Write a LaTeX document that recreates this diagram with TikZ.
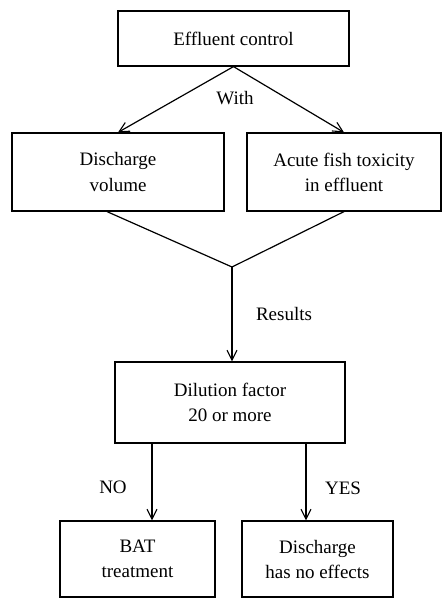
\documentclass[tikz,border=0pt]{standalone}
\usepackage{fontspec}
\setmainfont{Liberation Serif}
\usetikzlibrary{arrows.meta}
\begin{document}
\begin{tikzpicture}[x=1pt,y=-1pt,
  box/.style={draw,line width=1.2pt,align=center,inner sep=0pt,font=\fontsize{19}{25}\selectfont},
  lbl/.style={font=\fontsize{19}{22}\selectfont},
  conn/.style={line width=1.2pt},
  arr/.style={conn,-{Straight Barb[length=10pt,width=10pt,line width=1.1pt]}}]
\useasboundingbox (0,0) rectangle (443,599);
\node[box,minimum width=231pt,minimum height=55pt] (ec) at (233.5,38.5) {Effluent control};
\node[box,minimum width=212pt,minimum height=78pt] (dv) at (118,172) {Discharge\\volume};
\node[box,minimum width=194pt,minimum height=78pt] (af) at (344,172) {Acute fish toxicity\\in effluent};
\node[box,minimum width=230pt,minimum height=81pt] (df) at (230,402.5) {Dilution factor\\20 or more};
\node[box,minimum width=155pt,minimum height=76pt] (bat) at (137.5,559) {BAT\\treatment};
\node[box,minimum width=151pt,minimum height=76pt] (dn) at (317.5,559) {Discharge\\has no effects};
\coordinate (join) at (232,267);
\draw[arr] (ec.south) -- (dv.north);
\draw[arr] (ec.south) -- (af.north);
\draw[conn] ([xshift=-11pt]dv.south) -- (join) -- (af.south);
\draw[arr] (join) -- (join |- df.north);
\draw[arr] ([xshift=-78pt]df.south) -- ([xshift=14.5pt]bat.north);
\draw[arr] ([xshift=76pt]df.south) -- ([xshift=-11.5pt]dn.north);
\node[lbl] (with) at (235,98) {With};
\node[lbl] (res) at (284,314) {Results};
\node[lbl] (no) at (113,487) {NO};
\node[lbl] (yes) at (343,488) {YES};
\end{tikzpicture}
\end{document}
